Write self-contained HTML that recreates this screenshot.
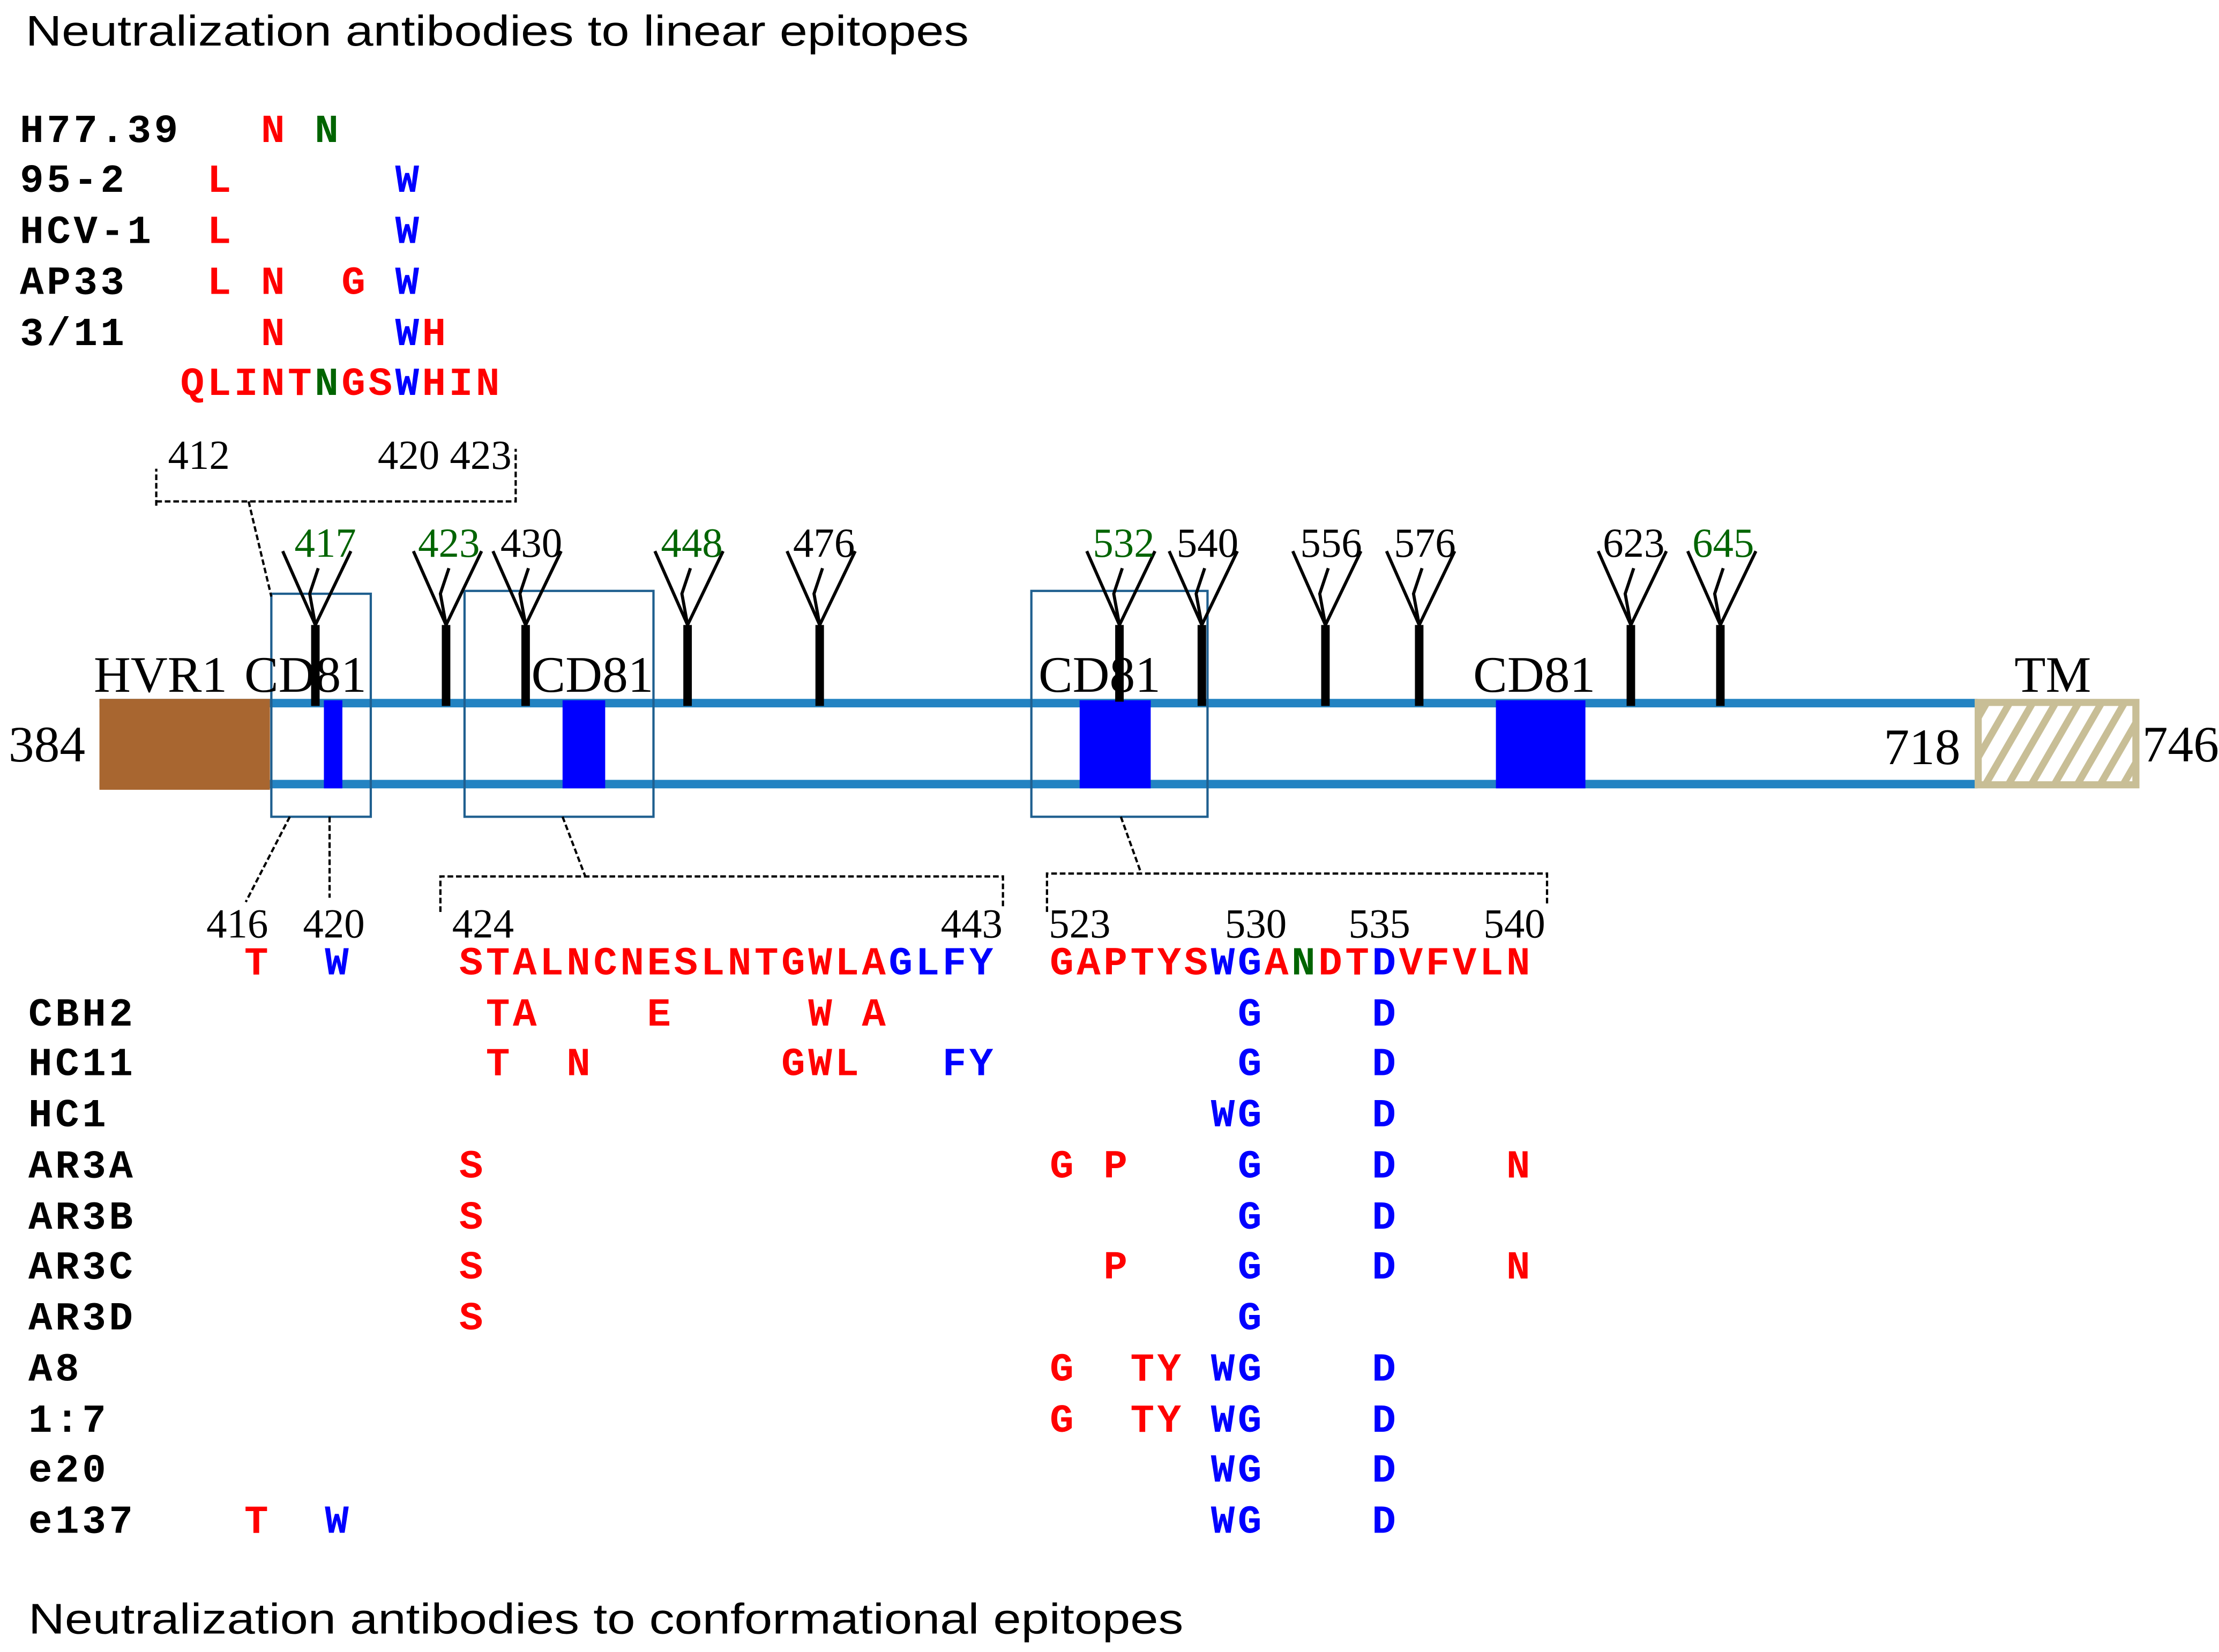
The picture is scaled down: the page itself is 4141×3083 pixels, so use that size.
<!DOCTYPE html>
<html><head><meta charset="utf-8"><style>html,body{margin:0;padding:0;background:#fff}svg{display:block}</style></head>
<body>
<svg xmlns="http://www.w3.org/2000/svg" width="4141" height="3083" viewBox="0 0 1562 1163" preserveAspectRatio="none">
<defs>
<pattern id="h" patternUnits="userSpaceOnUse" width="14" height="14" patternTransform="rotate(30)">
<rect width="14" height="14" fill="#fff"/><rect width="5" height="14" fill="#C8BE96"/></pattern>
</defs>
<g font-family="Liberation Sans, sans-serif" font-size="30" fill="#000">
<text x="18" y="32" textLength="664" lengthAdjust="spacingAndGlyphs">Neutralization antibodies to linear epitopes</text>
<text x="20" y="1150" textLength="813" lengthAdjust="spacingAndGlyphs">Neutralization antibodies to conformational epitopes</text>
</g>
<g font-family="Liberation Mono, monospace" font-weight="bold" font-size="28" letter-spacing="2.1">
<text x="14" y="100">H77.39</text>
<text x="14" y="135">95-2</text>
<text x="14" y="171">HCV-1</text>
<text x="14" y="207">AP33</text>
<text x="14" y="243">3/11</text>
<text y="100"><tspan x="183.7" fill="red">N</tspan><tspan x="221.5" fill="#006400">N</tspan></text>
<text y="135"><tspan x="145.9" fill="red">L</tspan><tspan x="278.2" fill="blue">W</tspan></text>
<text y="171"><tspan x="145.9" fill="red">L</tspan><tspan x="278.2" fill="blue">W</tspan></text>
<text y="207"><tspan x="145.9" fill="red">L</tspan><tspan x="183.7" fill="red">N</tspan><tspan x="240.4" fill="red">G</tspan><tspan x="278.2" fill="blue">W</tspan></text>
<text y="243"><tspan x="183.7" fill="red">N</tspan><tspan x="278.2" fill="blue">W</tspan><tspan x="297.1" fill="red">H</tspan></text>
<text x="127" y="278"><tspan fill="red">QLINT</tspan><tspan fill="#006400">N</tspan><tspan fill="red">GS</tspan><tspan fill="blue">W</tspan><tspan fill="red">HIN</tspan></text>

<text x="20" y="722">CBH2</text>
<text x="20" y="757">HC11</text>
<text x="20" y="793">HC1</text>
<text x="20" y="829">AR3A</text>
<text x="20" y="865">AR3B</text>
<text x="20" y="900">AR3C</text>
<text x="20" y="936">AR3D</text>
<text x="20" y="972">A8</text>
<text x="20" y="1008">1:7</text>
<text x="20" y="1043">e20</text>
<text x="20" y="1079">e137</text>

<text y="686"><tspan x="172" fill="red">T</tspan><tspan x="228.7" fill="blue">W</tspan><tspan x="323.2" fill="red">STALNCNESLNTGWLA</tspan><tspan fill="blue">GLFY</tspan><tspan x="739" fill="red">GAPTYS</tspan><tspan fill="blue">WG</tspan><tspan fill="red">A</tspan><tspan fill="#006400">N</tspan><tspan fill="red">DT</tspan><tspan fill="blue">D</tspan><tspan fill="red">VFVLN</tspan></text>
<text y="722"><tspan x="342.1" fill="red">TA</tspan><tspan x="455.5" fill="red">E</tspan><tspan x="568.9" fill="red">W</tspan><tspan x="606.7" fill="red">A</tspan><tspan x="871.3" fill="blue">G</tspan><tspan x="965.8" fill="blue">D</tspan></text>
<text y="757"><tspan x="342.1" fill="red">T</tspan><tspan x="398.8" fill="red">N</tspan><tspan x="550" fill="red">GWL</tspan><tspan x="663.4" fill="blue">FY</tspan><tspan x="871.3" fill="blue">G</tspan><tspan x="965.8" fill="blue">D</tspan></text>
<text y="793" fill="blue"><tspan x="852.4">WG</tspan><tspan x="965.8">D</tspan></text>
<text y="829"><tspan x="323.2" fill="red">S</tspan><tspan x="739" fill="red">G</tspan><tspan x="776.8" fill="red">P</tspan><tspan x="871.3" fill="blue">G</tspan><tspan x="965.8" fill="blue">D</tspan><tspan x="1060.3" fill="red">N</tspan></text>
<text y="865"><tspan x="323.2" fill="red">S</tspan><tspan x="871.3" fill="blue">G</tspan><tspan x="965.8" fill="blue">D</tspan></text>
<text y="900"><tspan x="323.2" fill="red">S</tspan><tspan x="776.8" fill="red">P</tspan><tspan x="871.3" fill="blue">G</tspan><tspan x="965.8" fill="blue">D</tspan><tspan x="1060.3" fill="red">N</tspan></text>
<text y="936"><tspan x="323.2" fill="red">S</tspan><tspan x="871.3" fill="blue">G</tspan></text>
<text y="972"><tspan x="739" fill="red">G</tspan><tspan x="795.7" fill="red">TY</tspan><tspan x="852.4" fill="blue">WG</tspan><tspan x="965.8" fill="blue">D</tspan></text>
<text y="1008"><tspan x="739" fill="red">G</tspan><tspan x="795.7" fill="red">TY</tspan><tspan x="852.4" fill="blue">WG</tspan><tspan x="965.8" fill="blue">D</tspan></text>
<text y="1043" fill="blue"><tspan x="852.4">WG</tspan><tspan x="965.8">D</tspan></text>
<text y="1079"><tspan x="172" fill="red">T</tspan><tspan x="228.7" fill="blue">W</tspan><tspan x="852.4" fill="blue">WG</tspan><tspan x="965.8" fill="blue">D</tspan></text>
</g>

<line x1="70" y1="495" x2="1392" y2="495" stroke="#2383C2" stroke-width="6"/>
<line x1="70" y1="552" x2="1392" y2="552" stroke="#2383C2" stroke-width="6"/>
<rect x="70" y="492" width="120" height="64" fill="#A86630"/>
<rect x="1392.5" y="494.5" width="111" height="58" fill="url(#h)" stroke="#C8BE96" stroke-width="5"/>
<g fill="#0000FF">
<rect x="228" y="493" width="13" height="62"/>
<rect x="396" y="493" width="30" height="62"/>
<rect x="760" y="493" width="50" height="62"/>
<rect x="1053" y="493" width="63" height="62"/>
</g>
<g fill="none" stroke="#1F5F8F" stroke-width="1.6">
<rect x="191" y="418" width="70" height="157"/>
<rect x="327" y="416" width="133" height="159"/>
<rect x="726" y="416" width="124" height="159"/>
</g>

<g stroke="#000" fill="none">
<g stroke-width="6">
<line x1="222" y1="440" x2="222" y2="497"/><line x1="314" y1="440" x2="314" y2="497"/>
<line x1="370" y1="440" x2="370" y2="497"/><line x1="484" y1="440" x2="484" y2="497"/>
<line x1="577" y1="440" x2="577" y2="497"/><line x1="788" y1="440" x2="788" y2="494"/>
<line x1="846" y1="440" x2="846" y2="497"/><line x1="933" y1="440" x2="933" y2="497"/>
<line x1="999" y1="440" x2="999" y2="497"/><line x1="1148" y1="440" x2="1148" y2="497"/>
<line x1="1211" y1="440" x2="1211" y2="497"/>
</g>
<g stroke-width="2.2">
<path d="M199 388L222 440L247 388M222 440L218 418L224 400"/>
<path d="M291 388L314 440L339 388M314 440L310 418L316 400"/>
<path d="M347 388L370 440L395 388M370 440L366 418L372 400"/>
<path d="M461 388L484 440L509 388M484 440L480 418L486 400"/>
<path d="M554 388L577 440L602 388M577 440L573 418L579 400"/>
<path d="M765 388L788 440L813 388M788 440L784 418L790 400"/>
<path d="M823 388L846 440L871 388M846 440L842 418L848 400"/>
<path d="M910 388L933 440L958 388M933 440L929 418L935 400"/>
<path d="M976 388L999 440L1024 388M999 440L995 418L1001 400"/>
<path d="M1125 388L1148 440L1173 388M1148 440L1144 418L1150 400"/>
<path d="M1188 388L1211 440L1236 388M1211 440L1207 418L1213 400"/>
</g>
</g>

<g font-family="Liberation Serif, serif" font-size="29" text-anchor="middle">
<text x="229" y="392" fill="#006400">417</text>
<text x="316" y="392" fill="#006400">423</text>
<text x="374" y="392">430</text>
<text x="487" y="392" fill="#006400">448</text>
<text x="580" y="392">476</text>
<text x="791" y="392" fill="#006400">532</text>
<text x="850" y="392">540</text>
<text x="937" y="392">556</text>
<text x="1003" y="392">576</text>
<text x="1150" y="392">623</text>
<text x="1213" y="392" fill="#006400">645</text>
<text x="140" y="330">412</text>
<text x="313" y="330">420 423</text>
<text x="167" y="660">416</text>
<text x="235" y="660">420</text>
<text x="340" y="660">424</text>
<text x="684" y="660">443</text>
<text x="760" y="660">523</text>
<text x="884" y="660">530</text>
<text x="971" y="660">535</text>
<text x="1066" y="660">540</text>
</g>
<g font-family="Liberation Serif, serif" font-size="36">
<text x="66" y="487">HVR1</text>
<text x="172" y="487">CD81</text>
<text x="374" y="487">CD81</text>
<text x="731" y="487">CD81</text>
<text x="1037" y="487">CD81</text>
<text x="1418" y="487">TM</text>
<text x="6" y="536">384</text>
<text x="1326" y="538">718</text>
<text x="1508" y="536">746</text>
</g>

<g stroke="#000" fill="none" stroke-width="1.6" stroke-dasharray="4,2">
<path d="M110 356V330M110 353H363V316"/>
<path d="M175 353L191 420"/>
<path d="M204 575L173 635M232 575V632"/>
<path d="M310 642V617H706V640M396 575L412 617"/>
<path d="M737 642V615H1089V636M789 575L803 614"/>
</g>
</svg>
</body></html>
